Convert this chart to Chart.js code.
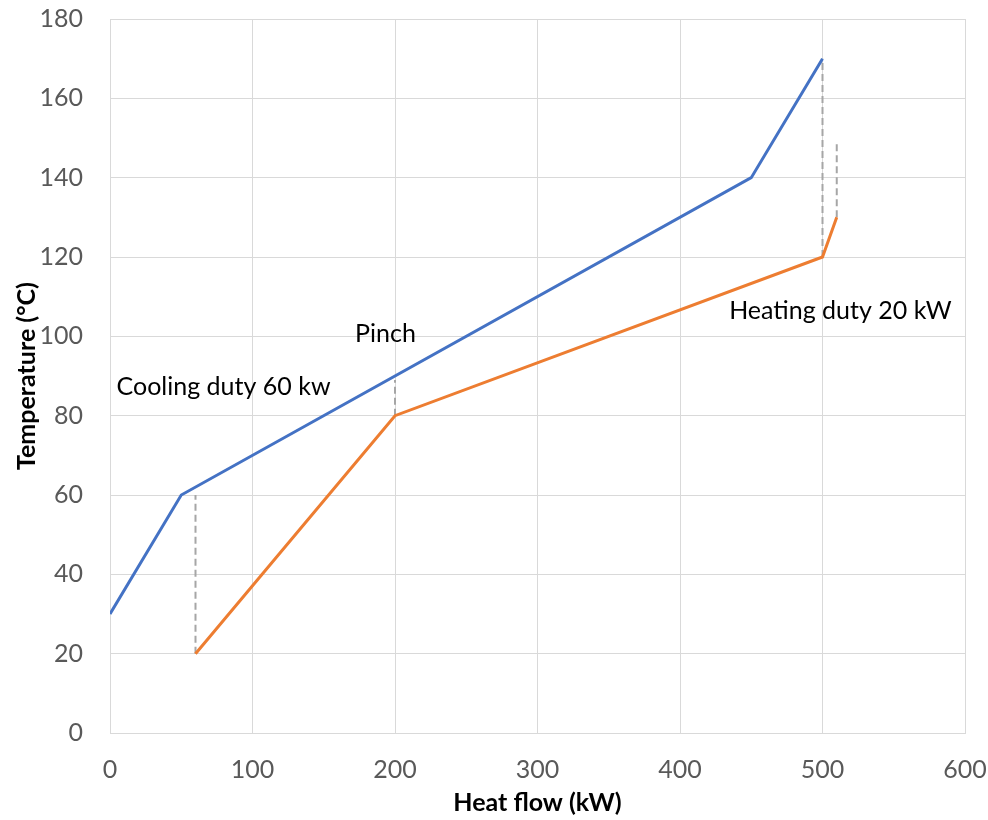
<!DOCTYPE html>
<html>
<head>
<meta charset="utf-8">
<script src="https://cdn.jsdelivr.net/npm/chart.js@4.4.1/dist/chart.umd.min.js"></script>
<style>
  html, body { margin: 0; padding: 0; background: #fff; }
  #wrap { width: 988px; height: 820px; position: relative; }
</style>
</head>
<body>
<div id="wrap"><canvas id="c" width="988" height="820"></canvas></div>
<script>
// Composite curves: heat flow (kW) vs temperature (°C)
const hotQ = [0, 50, 450, 500];
const hotT = [30, 60, 140, 170];
const coldQ = [60, 200, 500, 510];
const coldT = [20, 80, 120, 130];

// Vertical guide segments: [heat flow, lower T, upper T]
const guideQ = [60, 200, 500, 510];
const guideLow = [20, 80, 120, 130];
const guideHigh = [60, 89, 170, 149];

// Text notes placed in data coordinates (left edge, vertical middle)
const noteText = ['Cooling duty 60 kw', 'Pinch', 'Heating duty 20 kW'];
const noteQ = [4.6, 172, 434.5];
const noteT = [87.3, 100.7, 106.5];

const xTicks = [0, 100, 200, 300, 400, 500, 600];
const yTicks = [0, 20, 40, 60, 80, 100, 120, 140, 160, 180];

const FONT = 'Lato, "Open Sans", sans-serif';
const FS = 25;

const pts = (xs, ys) => xs.map((x, i) => ({ x: x, y: ys[i] }));

const guideSets = guideQ.map((q, i) => ({
  data: [{ x: q, y: guideLow[i] }, { x: q, y: guideHigh[i] }],
  showLine: true,
  borderColor: '#a6a6a6',
  borderWidth: 2,
  borderDash: [7, 4],
  pointRadius: 0,
  order: 2
}));

const notesPlugin = {
  id: 'notes',
  afterDatasetsDraw(chart) {
    const { ctx, scales } = chart;
    ctx.save();
    ctx.font = FS + 'px ' + FONT;
    ctx.fillStyle = '#000';
    ctx.textAlign = 'left';
    ctx.textBaseline = 'middle';
    noteText.forEach((t, i) => {
      ctx.fillText(t, scales.x.getPixelForValue(noteQ[i]), scales.y.getPixelForValue(noteT[i]));
    });
    ctx.restore();
  }
};

new Chart(document.getElementById('c'), {
  type: 'scatter',
  data: {
    datasets: [
      {
        data: pts(hotQ, hotT),
        showLine: true,
        borderColor: '#4472C4',
        borderWidth: 3,
        pointRadius: 0,
        order: 1
      },
      {
        data: pts(coldQ, coldT),
        showLine: true,
        borderColor: '#ED7D31',
        borderWidth: 3,
        pointRadius: 0,
        order: 1
      },
      ...guideSets
    ]
  },
  options: {
    responsive: false,
    animation: false,
    layout: { padding: { left: 0, right: 23, top: 19, bottom: 0 } },
    plugins: {
      legend: { display: false },
      tooltip: { enabled: false }
    },
    scales: {
      x: {
        type: 'linear',
        min: 0,
        max: 600,
        afterBuildTicks(axis) { axis.ticks = xTicks.map(v => ({ value: v })); },
        afterFit(axis) { axis.height = 87; axis.paddingLeft = 0; axis.paddingRight = 0; },
        grid: { color: '#d9d9d9', lineWidth: 1, drawTicks: false },
        border: { color: '#d9d9d9' },
        ticks: { padding: 22, color: '#595959', font: { family: FONT, size: FS } },
        title: {
          display: true,
          text: 'Heat flow (kW)',
          color: '#000',
          font: { family: FONT, size: FS, weight: 'bold' },
          padding: { top: 0, bottom: 2 }
        }
      },
      y: {
        type: 'linear',
        min: 0,
        max: 180,
        afterBuildTicks(axis) { axis.ticks = yTicks.map(v => ({ value: v })); },
        afterFit(axis) { axis.width = 110; axis.paddingTop = 0; axis.paddingBottom = 0; },
        grid: { color: '#d9d9d9', lineWidth: 1, drawTicks: false },
        border: { color: '#d9d9d9' },
        ticks: { padding: 27, color: '#595959', font: { family: FONT, size: FS } },
        title: {
          display: true,
          text: 'Temperature (°C)',
          color: '#000',
          font: { family: FONT, size: FS, weight: 'bold' },
          padding: { top: 12, bottom: 0 }
        }
      }
    }
  },
  plugins: [notesPlugin]
});
</script>
</body>
</html>
